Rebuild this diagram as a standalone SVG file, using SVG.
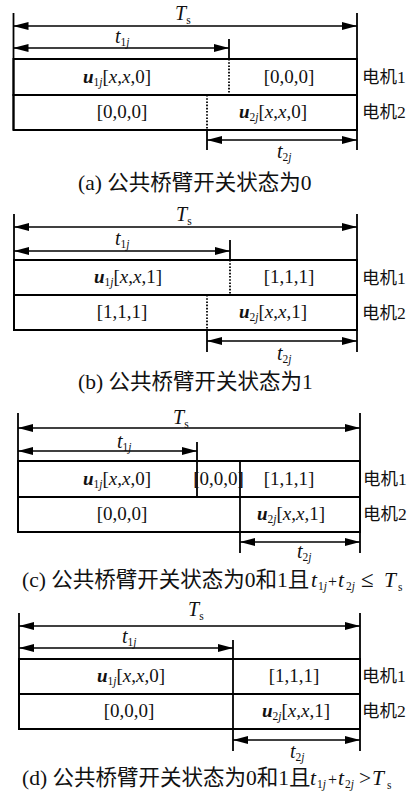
<svg xmlns="http://www.w3.org/2000/svg" width="413" height="797" viewBox="0 0 413 797">
<style>
.ln{stroke:#000;stroke-width:1.8;fill:none}
.box{stroke:#000;stroke-width:2;fill:#fff}
.dot{stroke:#000;stroke-width:1.8;stroke-dasharray:1.6 1.6;fill:none}
.arr{stroke:#000;stroke-width:1.7;fill:none;marker-start:url(#ah);marker-end:url(#ah)}
.t{font-family:"Liberation Serif","Noto Sans CJK SC",serif;font-size:19px;fill:#111}
.lb{font-family:"Liberation Serif",serif;font-size:20px;fill:#111}
.m{text-anchor:middle}
.cjk{font-family:"Liberation Serif","Noto Sans CJK SC",serif;font-size:17.5px;fill:#111}
.cap{font-family:"Liberation Serif","Noto Sans CJK SC",serif;font-size:21.5px;fill:#111}
.i{font-style:italic}
.bi{font-style:italic;font-weight:bold}
.sub{font-size:11.5px}
.pl{font-size:16px}
</style>
<defs>
<marker id="ah" markerUnits="userSpaceOnUse" markerWidth="15" markerHeight="8" refX="15" refY="4" orient="auto-start-reverse">
<path d="M0,0 L15,4 L0,8 z" fill="#000"/>
</marker>
</defs>
<rect width="413" height="797" fill="#fff"/>

<!-- Panel (a) -->
<g id="panel-a">
<g id="a-rows">
<rect class="box" x="13.5" y="59" width="343.5" height="36"/>
<rect class="box" x="13.5" y="95" width="343.5" height="35"/>
</g>
<g id="a-connectors">
<line class="ln" x1="13.5" y1="13" x2="13.5" y2="130"/>
<line class="ln" x1="357" y1="13" x2="357" y2="150"/>
<line class="arr" x1="13.5" y1="26" x2="357" y2="26"/>
<line class="ln" x1="229" y1="39" x2="229" y2="59"/>
<line class="arr" x1="13.5" y1="48" x2="229" y2="48"/>
<line class="dot" x1="229" y1="59" x2="229" y2="95"/>
<line class="dot" x1="207" y1="95" x2="207" y2="130"/>
<line class="ln" x1="207" y1="130" x2="207" y2="150"/>
<line class="arr" x1="207" y1="140" x2="357" y2="140"/>
</g>
<g id="a-labels">
<text class="lb" x="175" y="20"><tspan class="i">T</tspan><tspan class="sub" dy="4">s</tspan></text>
<text class="lb" x="115" y="43"><tspan class="i">t</tspan><tspan class="sub" dy="3">1<tspan class="i">j</tspan></tspan></text>
<text class="lb" x="277" y="158"><tspan class="i">t</tspan><tspan class="sub" dy="3">2<tspan class="i">j</tspan></tspan></text>
<text class="t m" x="117" y="83"><tspan class="bi">u</tspan><tspan class="sub" dy="3">1<tspan class="i">j</tspan></tspan><tspan dy="-3">[</tspan><tspan class="i">x</tspan>,<tspan class="i">x</tspan>,0]</text>
<text class="t m" x="289" y="83">[0,0,0]</text>
<text class="t m" x="122" y="118">[0,0,0]</text>
<text class="t m" x="273" y="118"><tspan class="bi">u</tspan><tspan class="sub" dy="3">2<tspan class="i">j</tspan></tspan><tspan dy="-3">[</tspan><tspan class="i">x</tspan>,<tspan class="i">x</tspan>,0]</text>
<text class="cjk" x="362" y="83">电机1</text>
<text class="cjk" x="362" y="118">电机2</text>
<text class="cap" x="78" y="190">(a) 公共桥臂开关状态为0</text>
</g>
</g>

<!-- Panel (b) -->
<g id="panel-b">
<g id="b-rows">
<rect class="box" x="14" y="260" width="343" height="35"/>
<rect class="box" x="14" y="295" width="343" height="35"/>
</g>
<g id="b-connectors">
<line class="ln" x1="14" y1="214" x2="14" y2="330"/>
<line class="ln" x1="357" y1="214" x2="357" y2="352"/>
<line class="arr" x1="14" y1="227" x2="357" y2="227"/>
<line class="ln" x1="230" y1="240" x2="230" y2="260"/>
<line class="arr" x1="14" y1="251" x2="230" y2="251"/>
<line class="dot" x1="230" y1="260" x2="230" y2="295"/>
<line class="dot" x1="207" y1="295" x2="207" y2="330"/>
<line class="ln" x1="207" y1="330" x2="207" y2="352"/>
<line class="arr" x1="207" y1="341" x2="357" y2="341"/>
</g>
<g id="b-labels">
<text class="lb" x="176" y="221"><tspan class="i">T</tspan><tspan class="sub" dy="4">s</tspan></text>
<text class="lb" x="115" y="245"><tspan class="i">t</tspan><tspan class="sub" dy="3">1<tspan class="i">j</tspan></tspan></text>
<text class="lb" x="277" y="360"><tspan class="i">t</tspan><tspan class="sub" dy="3">2<tspan class="i">j</tspan></tspan></text>
<text class="t m" x="128" y="283"><tspan class="bi">u</tspan><tspan class="sub" dy="3">1<tspan class="i">j</tspan></tspan><tspan dy="-3">[</tspan><tspan class="i">x</tspan>,<tspan class="i">x</tspan>,1]</text>
<text class="t m" x="289" y="283">[1,1,1]</text>
<text class="t m" x="122" y="318">[1,1,1]</text>
<text class="t m" x="273" y="318"><tspan class="bi">u</tspan><tspan class="sub" dy="3">2<tspan class="i">j</tspan></tspan><tspan dy="-3">[</tspan><tspan class="i">x</tspan>,<tspan class="i">x</tspan>,1]</text>
<text class="cjk" x="362" y="284">电机1</text>
<text class="cjk" x="362" y="319">电机2</text>
<text class="cap" x="78" y="389">(b) 公共桥臂开关状态为1</text>
</g>
</g>

<!-- Panel (c) -->
<g id="panel-c">
<g id="c-rows">
<rect class="box" x="18" y="461" width="342" height="36"/>
<rect class="box" x="18" y="497" width="342" height="35"/>
</g>
<g id="c-connectors">
<line class="ln" x1="18" y1="413" x2="18" y2="532"/>
<line class="ln" x1="360" y1="413" x2="360" y2="553"/>
<line class="arr" x1="18" y1="428" x2="360" y2="428"/>
<line class="ln" x1="197" y1="442" x2="197" y2="497"/>
<line class="arr" x1="18" y1="451" x2="197" y2="451"/>
<line class="ln" x1="240" y1="461" x2="240" y2="553"/>
<line class="arr" x1="240" y1="542" x2="360" y2="542"/>
</g>
<g id="c-labels">
<text class="lb" x="173" y="424"><tspan class="i">T</tspan><tspan class="sub" dy="4">s</tspan></text>
<text class="lb" x="117" y="448"><tspan class="i">t</tspan><tspan class="sub" dy="3">1<tspan class="i">j</tspan></tspan></text>
<text class="lb" x="297" y="558"><tspan class="i">t</tspan><tspan class="sub" dy="3">2<tspan class="i">j</tspan></tspan></text>
<text class="t m" x="117" y="485"><tspan class="bi">u</tspan><tspan class="sub" dy="3">1<tspan class="i">j</tspan></tspan><tspan dy="-3">[</tspan><tspan class="i">x</tspan>,<tspan class="i">x</tspan>,0]</text>
<text class="t m" x="218.5" y="485">[0,0,0]</text>
<text class="t m" x="289" y="485">[1,1,1]</text>
<text class="t m" x="122" y="520">[0,0,0]</text>
<text class="t m" x="291" y="520"><tspan class="bi">u</tspan><tspan class="sub" dy="3">2<tspan class="i">j</tspan></tspan><tspan dy="-3">[</tspan><tspan class="i">x</tspan>,<tspan class="i">x</tspan>,1]</text>
<text class="cjk" x="363" y="485">电机1</text>
<text class="cjk" x="363" y="520">电机2</text>
<text class="cap" x="22" y="587">(c) 公共桥臂开关状态为0和1且<tspan class="i" x="311">t</tspan><tspan class="sub" x="318" dy="3">1<tspan class="i">j</tspan></tspan><tspan class="pl" x="328" dy="-3">+</tspan><tspan class="i" x="338">t</tspan><tspan class="sub" x="346" dy="3">2<tspan class="i">j</tspan></tspan><tspan x="361" dy="-3" font-size="23">≤</tspan><tspan class="i" x="384">T</tspan><tspan class="sub" x="398" dy="4">s</tspan></text>
</g>
</g>

<!-- Panel (d) -->
<g id="panel-d">
<g id="d-rows">
<rect class="box" x="19" y="659" width="341" height="35"/>
<rect class="box" x="19" y="694" width="341" height="35"/>
</g>
<g id="d-connectors">
<line class="ln" x1="19" y1="613" x2="19" y2="729"/>
<line class="ln" x1="360" y1="613" x2="360" y2="751"/>
<line class="arr" x1="19" y1="626" x2="360" y2="626"/>
<line class="ln" x1="233" y1="640" x2="233" y2="751"/>
<line class="arr" x1="19" y1="648" x2="233" y2="648"/>
<line class="arr" x1="233" y1="740" x2="360" y2="740"/>
</g>
<g id="d-labels">
<text class="lb" x="188" y="616"><tspan class="i">T</tspan><tspan class="sub" dy="4">s</tspan></text>
<text class="lb" x="122" y="643"><tspan class="i">t</tspan><tspan class="sub" dy="3">1<tspan class="i">j</tspan></tspan></text>
<text class="lb" x="290" y="758"><tspan class="i">t</tspan><tspan class="sub" dy="3">2<tspan class="i">j</tspan></tspan></text>
<text class="t m" x="131" y="682"><tspan class="bi">u</tspan><tspan class="sub" dy="3">1<tspan class="i">j</tspan></tspan><tspan dy="-3">[</tspan><tspan class="i">x</tspan>,<tspan class="i">x</tspan>,0]</text>
<text class="t m" x="294" y="682">[1,1,1]</text>
<text class="t m" x="129" y="717">[0,0,0]</text>
<text class="t m" x="296" y="717"><tspan class="bi">u</tspan><tspan class="sub" dy="3">2<tspan class="i">j</tspan></tspan><tspan dy="-3">[</tspan><tspan class="i">x</tspan>,<tspan class="i">x</tspan>,1]</text>
<text class="cjk" x="362" y="682">电机1</text>
<text class="cjk" x="362" y="717">电机2</text>
<text class="cap" x="22" y="785">(d) 公共桥臂开关状态为0和1且<tspan class="i" x="310">t</tspan><tspan class="sub" x="317" dy="3">1<tspan class="i">j</tspan></tspan><tspan class="pl" x="328" dy="-3">+</tspan><tspan class="i" x="338">t</tspan><tspan class="sub" x="345" dy="3">2<tspan class="i">j</tspan></tspan><tspan x="359" dy="-3">&gt;</tspan><tspan class="i" x="372">T</tspan><tspan class="sub" x="387" dy="4">s</tspan></text>
</g>
</g>
</svg>
